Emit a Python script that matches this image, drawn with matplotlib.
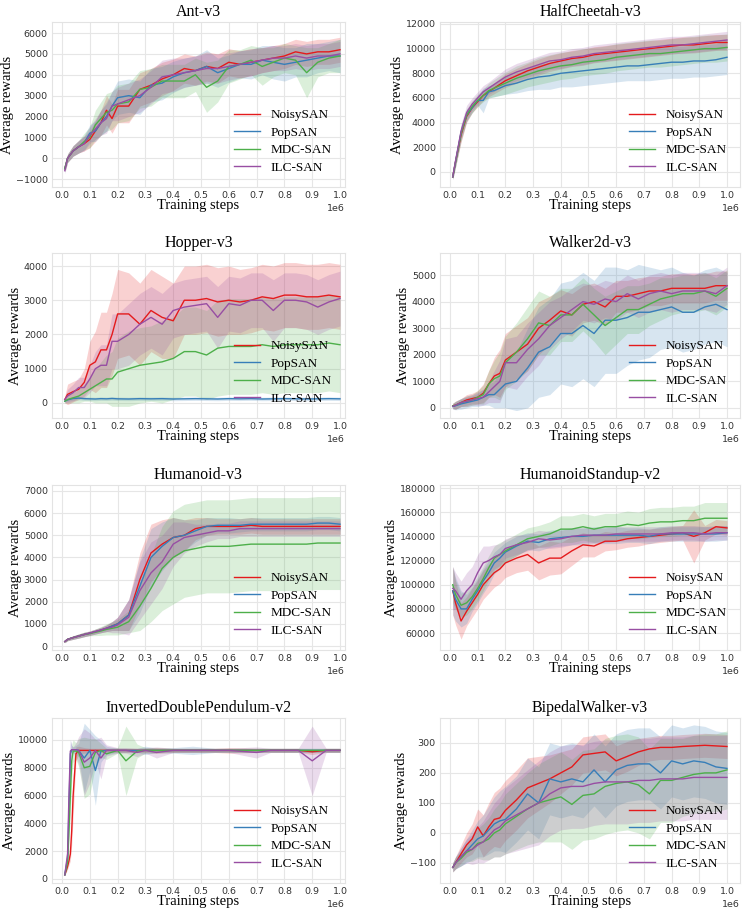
import matplotlib.pyplot as plt
import numpy as np

# training steps, in units of 1e6
X = [0.01, 0.02, 0.04, 0.06, 0.08, 0.10,
     0.12, 0.14, 0.16, 0.18, 0.20,
     0.24, 0.28, 0.32, 0.36, 0.40,
     0.44, 0.48, 0.52, 0.56, 0.60,
     0.64, 0.68, 0.72, 0.76, 0.80,
     0.84, 0.88, 0.92, 0.96, 1.00]
X_IDP = [0.01, 0.02, 0.025, 0.03, 0.035, 0.04,
         0.05, 0.06, 0.08, 0.10, 0.12,
         0.14, 0.16, 0.20, 0.23, 0.27,
         0.30, 0.34, 0.40, 0.47, 0.55,
         0.60, 0.70, 0.75, 0.81, 0.85,
         0.90, 0.95, 1.00]

methods = ["NoisySAN", "PopSAN", "MDC-SAN", "ILC-SAN"]
colors = ["#e41a1c", "#377eb8", "#4daf4a", "#984ea3"]

# ---- Ant-v3
ant_noisy = [-500, 0, 350, 550, 700, 900, 1300, 1700, 2300, 1900, 2500, 2500, 3300, 3500, 3800, 4000,
             4300, 4200, 4400, 4300, 4600, 4500, 4600, 4700, 4800, 4900, 5100, 5000, 5100, 5100, 5200]
ant_noisy_sd = [150, 200, 250, 300, 350, 400, 500, 600, 700, 700, 800, 800, 800, 800, 800, 750,
                700, 700, 700, 700, 650, 650, 650, 600, 600, 600, 600, 600, 600, 600, 600]
ant_pop = [-500, 0, 350, 550, 750, 1200, 1300, 1700, 2000, 2500, 2900, 3000, 2900, 3500, 3600, 3900,
           4100, 4200, 4400, 4100, 4300, 4500, 4500, 4700, 4600, 4500, 4600, 4700, 4800, 4900, 4900]
ant_pop_sd = [150, 200, 250, 300, 350, 400, 500, 600, 700, 700, 800, 800, 800, 800, 800, 750,
              700, 700, 800, 700, 650, 650, 700, 700, 800, 800, 700, 800, 700, 700, 800]
ant_mdc = [-500, 0, 350, 550, 800, 1000, 1600, 1900, 2200, 2300, 2600, 2700, 3300, 3400, 3700, 3700,
           3700, 4000, 3400, 3700, 4400, 4500, 4700, 4400, 4600, 4800, 4700, 4100, 4600, 4800, 4900]
ant_mdc_sd = [150, 200, 250, 300, 400, 500, 700, 800, 900, 900, 900, 900, 900, 900, 800, 800,
              800, 800, 1200, 1000, 800, 700, 700, 900, 700, 700, 700, 1200, 700, 700, 800]
ant_ilc = [-600, 0, 350, 550, 700, 1100, 1400, 1700, 1900, 2500, 2600, 2800, 3000, 3400, 3900, 4000,
           4100, 4200, 4300, 4300, 4400, 4500, 4600, 4700, 4800, 4800, 4900, 4800, 4900, 4900, 5000]
ant_ilc_sd = [150, 200, 250, 300, 350, 400, 500, 600, 700, 700, 800, 800, 800, 800, 800, 800,
              700, 700, 700, 700, 650, 650, 650, 600, 600, 600, 600, 600, 600, 600, 600]

# ---- HalfCheetah-v3
hc_noisy = [-400, 800, 3000, 4500, 5200, 5700, 6200, 6500, 6800, 7100, 7400, 7800, 8200, 8500, 8800, 9000,
            9200, 9300, 9500, 9600, 9700, 9800, 9900, 10000, 10100, 10200, 10300, 10300, 10400, 10500, 10500]
hc_noisy_sd = [200, 400, 600, 500, 400, 400, 400, 400, 450, 500, 550, 600, 600, 650, 650, 650,
               650, 650, 650, 650, 650, 650, 650, 650, 650, 650, 650, 650, 650, 650, 650]
hc_pop = [-400, 800, 3200, 4600, 5200, 5800, 5800, 6500, 6600, 6800, 7000, 7200, 7500, 7700, 7800, 8000,
          8100, 8200, 8300, 8400, 8500, 8600, 8600, 8700, 8800, 8900, 8900, 9000, 9000, 9100, 9300]
hc_pop_sd = [200, 400, 600, 500, 400, 400, 1000, 500, 500, 600, 700, 800, 900, 1000, 1100, 1100,
             1200, 1200, 1200, 1200, 1200, 1200, 1200, 1300, 1300, 1300, 1300, 1300, 1300, 1300, 1400]
hc_mdc = [-400, 800, 3100, 4600, 5300, 5800, 6200, 6600, 6800, 7000, 7200, 7600, 7900, 8200, 8400, 8600,
          8700, 8900, 9000, 9100, 9300, 9400, 9500, 9600, 9600, 9700, 9800, 9900, 10000, 10000, 10100]
hc_mdc_sd = [200, 400, 600, 500, 500, 500, 500, 600, 700, 800, 900, 1000, 1000, 1100, 1100, 1100,
             1100, 1100, 1100, 1100, 1100, 1100, 1100, 1100, 1100, 1100, 1100, 1100, 1100, 1100, 1100]
hc_ilc = [-400, 900, 3300, 4800, 5500, 6000, 6500, 6800, 7100, 7400, 7700, 8100, 8400, 8700, 9000, 9100,
          9300, 9400, 9600, 9700, 9800, 9900, 10000, 10100, 10200, 10300, 10300, 10400, 10500, 10600, 10700]
hc_ilc_sd = [200, 400, 600, 600, 500, 500, 500, 500, 550, 600, 650, 700, 700, 700, 700, 700,
             700, 700, 700, 700, 700, 700, 700, 700, 700, 700, 700, 700, 700, 700, 700]

# ---- Hopper-v3
hop_noisy = [100, 250, 330, 400, 600, 1100, 1200, 1550, 1550, 2000, 2600, 2600, 2300, 2700, 2500, 2400,
             3000, 3000, 3050, 2950, 3000, 2950, 3000, 3100, 3050, 3150, 3150, 3100, 3100, 3150, 3100]
hop_noisy_sd = [100, 300, 300, 300, 400, 700, 900, 1100, 1100, 1200, 1300, 1200, 1200, 1200, 1200, 1100,
                1000, 1000, 1000, 1000, 1000, 950, 950, 950, 950, 950, 950, 950, 950, 950, 950]
hop_pop = [50, 90, 130, 140, 125, 120, 115, 125, 120, 130, 120, 115, 125, 120, 125, 115,
           120, 125, 120, 115, 125, 120, 125, 115, 120, 125, 120, 115, 120, 125, 120]
hop_pop_sd = [30, 40, 50, 50, 50, 50, 50, 50, 50, 50, 50, 50, 50, 50, 50, 50,
              50, 50, 50, 50, 50, 50, 50, 50, 50, 50, 50, 50, 50, 50, 50]
hop_mdc = [50, 100, 150, 200, 300, 400, 500, 600, 700, 700, 900, 1000, 1100, 1150, 1200, 1300,
           1500, 1500, 1400, 1600, 1650, 1650, 1650, 1700, 1650, 1700, 1700, 1700, 1700, 1750, 1700]
hop_mdc_sd = [50, 100, 150, 200, 250, 350, 500, 600, 700, 800, 1000, 1100, 1100, 1100, 1200, 1200,
              1300, 1300, 1300, 1400, 1400, 1400, 1400, 1400, 1400, 1400, 1400, 1400, 1400, 1400, 1400]
hop_ilc = [100, 200, 300, 450, 450, 700, 1000, 1100, 1100, 1800, 1800, 2000, 2300, 2500, 2300, 2700,
           2800, 2850, 2900, 2500, 2900, 2850, 3000, 3000, 2700, 3000, 3000, 2950, 2800, 2950, 3050]
hop_ilc_sd = [80, 200, 250, 300, 300, 400, 500, 600, 600, 800, 800, 900, 900, 900, 900, 800,
              800, 800, 800, 900, 800, 800, 800, 800, 900, 800, 800, 800, 800, 800, 800]

# ---- Walker2d-v3
wk_noisy = [80, 100, 200, 300, 350, 400, 550, 900, 1200, 1300, 1800, 2100, 2400, 3000, 3300, 3650,
            3500, 3900, 4000, 3800, 4200, 4200, 4300, 4400, 4400, 4500, 4500, 4500, 4500, 4600, 4600]
wk_noisy_sd = [100, 150, 150, 200, 200, 250, 350, 500, 700, 900, 1000, 1000, 1000, 1000, 900, 800,
               800, 700, 700, 700, 600, 600, 600, 550, 550, 550, 550, 550, 550, 550, 550]
wk_pop = [50, 80, 150, 200, 250, 300, 400, 500, 500, 700, 900, 1000, 1500, 2100, 2300, 2800,
          2800, 3100, 2800, 3300, 3300, 3400, 3600, 3600, 3700, 3800, 3600, 3600, 3800, 3900, 3700]
wk_pop_sd = [100, 150, 200, 200, 200, 250, 300, 400, 500, 700, 900, 1100, 1500, 1700, 1800, 1900,
             2000, 2000, 2000, 2000, 2000, 1800, 1800, 1700, 1500, 1500, 1500, 1400, 1400, 1400, 1400]
wk_mdc = [80, 100, 200, 250, 300, 400, 500, 900, 1100, 1200, 1700, 2100, 2600, 3200, 3100, 3500,
          3500, 3900, 3500, 3100, 3400, 3700, 3700, 3900, 4100, 4200, 4300, 4300, 4400, 4200, 4500]
wk_mdc_sd = [100, 150, 150, 200, 200, 250, 350, 500, 700, 900, 1000, 1100, 1200, 1200, 1100, 1000,
             1000, 1000, 1000, 1100, 1000, 900, 900, 800, 800, 700, 700, 700, 700, 700, 700]
wk_ilc = [60, 100, 200, 250, 300, 350, 400, 600, 800, 1000, 1700, 1700, 2200, 2600, 3100, 3400,
          3700, 4000, 3900, 4100, 4000, 4300, 4100, 4300, 4400, 4300, 4400, 4400, 4400, 4300, 4600]
wk_ilc_sd = [100, 150, 150, 200, 200, 250, 300, 400, 600, 800, 900, 1000, 1000, 1000, 900, 800,
             800, 700, 700, 700, 700, 700, 700, 700, 700, 700, 700, 700, 700, 700, 700]

# ---- Humanoid-v3
hum_noisy = [200, 300, 380, 450, 520, 580, 650, 720, 800, 900, 1000, 1400, 3000, 4200, 4600, 4900,
             5000, 5300, 5400, 5400, 5400, 5400, 5450, 5400, 5400, 5400, 5400, 5400, 5400, 5400, 5400]
hum_noisy_sd = [50, 60, 80, 90, 100, 100, 110, 120, 150, 200, 300, 700, 1200, 1300, 1100, 900,
                700, 500, 400, 350, 350, 350, 350, 350, 350, 350, 350, 350, 350, 350, 350]
hum_pop = [200, 300, 380, 450, 520, 580, 650, 720, 800, 900, 1000, 1400, 2700, 4000, 4500, 4900,
           5000, 5200, 5400, 5450, 5450, 5450, 5500, 5500, 5500, 5500, 5500, 5500, 5550, 5550, 5500]
hum_pop_sd = [50, 60, 80, 90, 100, 100, 110, 120, 150, 200, 300, 700, 1200, 1300, 1100, 900,
              700, 500, 400, 350, 350, 300, 300, 300, 300, 300, 300, 300, 300, 300, 300]
hum_mdc = [200, 300, 380, 450, 520, 560, 620, 680, 750, 800, 850, 1100, 1800, 2600, 3500, 4000,
           4300, 4400, 4500, 4500, 4500, 4550, 4600, 4600, 4600, 4600, 4600, 4600, 4650, 4650, 4650]
hum_mdc_sd = [50, 60, 80, 100, 100, 100, 150, 200, 250, 300, 350, 500, 1100, 1500, 1900, 2100,
              2100, 2100, 2100, 2100, 2100, 2100, 2100, 2100, 2100, 2100, 2100, 2100, 2100, 2100, 2100]
hum_ilc = [200, 300, 380, 450, 520, 580, 650, 720, 800, 850, 950, 1300, 2500, 3300, 3800, 4600,
           4900, 5000, 5100, 5200, 5200, 5300, 5300, 5300, 5300, 5300, 5300, 5300, 5300, 5300, 5300]
hum_ilc_sd = [50, 60, 80, 90, 100, 100, 110, 120, 150, 250, 350, 800, 1300, 1400, 1200, 1000,
              700, 500, 400, 350, 350, 350, 350, 350, 350, 350, 350, 350, 350, 350, 350]

# ---- HumanoidStandup-v2
hs_noisy = [95000, 85000, 70000, 78000, 85000, 92000, 100000, 105000, 110000, 113000, 118000,
            122000, 125000, 118000, 122000, 122000, 128000, 133000, 132000, 136000, 136000,
            138000, 139000, 140000, 141000, 142000, 143000, 140000, 143000, 148000, 147000]
hs_noisy_sd = [20000, 18000, 15000, 12000, 12000, 12000, 12000, 12000, 12000, 12000, 12000,
               12000, 13000, 14000, 14000, 13000, 12000, 10000, 9000, 8000, 7000,
               7000, 7000, 6000, 6000, 6000, 6000, 22000, 6000, 6000, 6000]
hs_pop = [95000, 88000, 80000, 80000, 88000, 95000, 103000, 110000, 118000, 122000, 127000,
          132000, 136000, 135000, 138000, 139000, 140000, 140000, 141000, 141000, 141000,
          141000, 141000, 140000, 142000, 142000, 142000, 142000, 142000, 142000, 143000]
hs_pop_sd = [20000, 18000, 15000, 12000, 10000, 10000, 10000, 10000, 9000, 9000, 8000,
             8000, 7000, 7000, 7000, 7000, 7000, 7000, 7000, 7000, 7000,
             6000, 6000, 6000, 6000, 6000, 6000, 6000, 6000, 6000, 6000]
hs_mdc = [100000, 92000, 83000, 85000, 90000, 97000, 105000, 114000, 122000, 125000, 128000,
          133000, 138000, 140000, 142000, 146000, 146000, 148000, 146000, 148000, 148000,
          150000, 149000, 151000, 152000, 152000, 153000, 153000, 155000, 155000, 155000]
hs_mdc_sd = [15000, 12000, 10000, 10000, 10000, 10000, 10000, 10000, 10000, 10000, 9000,
             9000, 9000, 9000, 10000, 11000, 11000, 11000, 11000, 11000, 11000,
             11000, 11000, 12000, 12000, 12000, 12000, 12000, 13000, 13000, 13000]
hs_ilc = [97000, 95000, 88000, 95000, 100000, 110000, 118000, 120000, 123000, 125000, 130000,
          133000, 135000, 138000, 137000, 138000, 140000, 141000, 141000, 141000, 142000,
          142000, 142000, 142000, 142000, 143000, 143000, 143000, 142000, 143000, 143000]
hs_ilc_sd = [18000, 15000, 15000, 15000, 15000, 15000, 14000, 12000, 10000, 9000, 8000,
             8000, 7000, 7000, 7000, 7000, 7000, 6000, 6000, 6000, 6000,
             6000, 6000, 6000, 6000, 6000, 6000, 6000, 6000, 6000, 6000]

# ---- InvertedDoublePendulum-v2 (on X_IDP)
idp_noisy = [300, 900, 1300, 1800, 3500, 6000, 9000, 9250, 9250, 9250, 9250,
             9250, 9250, 9250, 9250, 9250, 9250, 9250, 9250, 9250, 9250,
             9250, 9250, 9250, 9250, 9250, 9150, 9250, 9250]
idp_noisy_sd = [50, 200, 300, 500, 1000, 1500, 500, 300, 200, 150, 150,
                150, 150, 150, 150, 150, 150, 200, 150, 150, 150,
                200, 150, 150, 150, 150, 200, 150, 150]
idp_pop = [300, 1500, 5000, 9000, 9300, 9300, 9300, 9250, 8700, 9250, 7800,
           9200, 9250, 9250, 9250, 9250, 9250, 9250, 9250, 9250, 9250,
           9250, 9250, 9250, 9250, 9250, 9250, 9250, 9250]
idp_pop_sd = [50, 500, 1500, 1000, 300, 200, 300, 500, 2500, 1500, 2500,
              800, 300, 150, 150, 150, 300, 150, 200, 300, 150,
              150, 150, 150, 150, 150, 150, 150, 150]
idp_mdc = [300, 1200, 3500, 6000, 8500, 9200, 9200, 9100, 8000, 8100, 9100,
           9250, 9000, 9250, 8500, 9200, 9250, 9250, 9250, 9250, 9250,
           9250, 9250, 9250, 9250, 9250, 9250, 9250, 9250]
idp_mdc_sd = [50, 400, 1000, 1500, 1200, 800, 600, 1000, 2200, 2000, 1000,
              500, 400, 200, 2500, 500, 200, 200, 150, 150, 150,
              150, 150, 150, 150, 150, 150, 150, 150]
idp_ilc = [300, 1800, 6000, 9200, 9300, 9300, 9300, 9250, 8400, 8700, 9250,
           8700, 9250, 9250, 9250, 9100, 9250, 9100, 9250, 9250, 9250,
           9250, 9100, 9250, 9250, 9250, 8500, 9250, 9250]
idp_ilc_sd = [50, 600, 1500, 800, 300, 200, 500, 1000, 2400, 1800, 800,
              1500, 400, 200, 200, 300, 200, 400, 150, 150, 150,
              150, 400, 150, 150, 150, 2500, 150, 150]

# ---- BipedalWalker-v3
bw_noisy = [-115, -100, -70, -40, -20, 20, -10, 20, 45, 50, 75, 110, 150, 165, 180, 200,
            220, 260, 265, 270, 240, 255, 270, 280, 285, 285, 288, 290, 292, 290, 288]
bw_noisy_sd = [15, 20, 30, 40, 50, 60, 70, 80, 90, 100, 100, 100, 100, 90, 80, 70,
               60, 60, 60, 60, 50, 50, 45, 40, 40, 40, 40, 40, 40, 40, 40]
bw_pop = [-115, -100, -80, -60, -40, -20, -10, 10, 30, 40, 45, 80, 130, 100, 180, 170,
          180, 170, 210, 170, 210, 225, 230, 230, 200, 240, 230, 240, 235, 220, 215]
bw_pop_sd = [15, 20, 30, 40, 50, 60, 70, 80, 90, 100, 110, 110, 120, 120, 120, 120,
             120, 120, 120, 120, 120, 120, 120, 120, 120, 120, 120, 120, 120, 120, 120]
bw_mdc = [-115, -100, -85, -65, -55, -35, -30, -20, 0, 10, 30, 55, 80, 100, 110, 120,
          95, 125, 130, 155, 165, 170, 160, 130, 175, 175, 185, 195, 200, 200, 210]
bw_mdc_sd = [15, 20, 25, 30, 40, 50, 60, 70, 80, 90, 100, 110, 120, 130, 140, 150,
             150, 150, 150, 160, 160, 160, 160, 150, 140, 140, 130, 130, 130, 130, 130]
bw_ilc = [-115, -100, -80, -60, -55, -40, -30, -10, 10, 20, 40, 60, 80, 100, 130, 150,
          155, 155, 165, 170, 170, 170, 175, 175, 180, 180, 180, 185, 185, 185, 185]
bw_ilc_sd = [15, 20, 30, 40, 50, 60, 70, 80, 90, 100, 110, 120, 130, 140, 140, 140,
             140, 140, 140, 140, 140, 140, 140, 140, 140, 140, 140, 140, 140, 140, 140]

panels = [
    ("Ant-v3", X, [ant_noisy, ant_pop, ant_mdc, ant_ilc],
     [ant_noisy_sd, ant_pop_sd, ant_mdc_sd, ant_ilc_sd], (-1380, 6530), np.arange(-1000, 6001, 1000)),
    ("HalfCheetah-v3", X, [hc_noisy, hc_pop, hc_mdc, hc_ilc],
     [hc_noisy_sd, hc_pop_sd, hc_mdc_sd, hc_ilc_sd], (-1220, 12160), np.arange(0, 12001, 2000)),
    ("Hopper-v3", X, [hop_noisy, hop_pop, hop_mdc, hop_ilc],
     [hop_noisy_sd, hop_pop_sd, hop_mdc_sd, hop_ilc_sd], (-440, 4380), np.arange(0, 4001, 1000)),
    ("Walker2d-v3", X, [wk_noisy, wk_pop, wk_mdc, wk_ilc],
     [wk_noisy_sd, wk_pop_sd, wk_mdc_sd, wk_ilc_sd], (-380, 5830), np.arange(0, 5001, 1000)),
    ("Humanoid-v3", X, [hum_noisy, hum_pop, hum_mdc, hum_ilc],
     [hum_noisy_sd, hum_pop_sd, hum_mdc_sd, hum_ilc_sd], (-180, 7270), np.arange(0, 7001, 1000)),
    ("HumanoidStandup-v2", X, [hs_noisy, hs_pop, hs_mdc, hs_ilc],
     [hs_noisy_sd, hs_pop_sd, hs_mdc_sd, hs_ilc_sd], (46000, 182500), np.arange(60000, 180001, 20000)),
    ("InvertedDoublePendulum-v2", X_IDP, [idp_noisy, idp_pop, idp_mdc, idp_ilc],
     [idp_noisy_sd, idp_pop_sd, idp_mdc_sd, idp_ilc_sd], (-290, 11580), np.arange(0, 10001, 2000)),
    ("BipedalWalker-v3", X, [bw_noisy, bw_pop, bw_mdc, bw_ilc],
     [bw_noisy_sd, bw_pop_sd, bw_mdc_sd, bw_ilc_sd], (-167, 383), np.arange(-100, 301, 100)),
]

SERIF = "Liberation Serif"
W, H = 747, 910
fig = plt.figure(figsize=(W / 100, H / 100), dpi=100)

row_tops = [22, 253, 485, 718]
col_left = [52, 440]
col_width = [293, 300]
col_xmax = [1.018, 1.047]
ax_h = 165

for i, (title, xs, means, sds, ylim, yticks) in enumerate(panels):
    r, c = divmod(i, 2)
    ax = fig.add_axes([col_left[c] / W, 1 - (row_tops[r] + ax_h) / H,
                       col_width[c] / W, ax_h / H])
    steps = np.array(xs) * 1e6
    for m, s, col, name in zip(means, sds, colors, methods):
        m = np.array(m, dtype=float)
        s = np.array(s, dtype=float)
        ax.fill_between(steps, m - s, m + s, color=col, alpha=0.2, lw=0)
        ax.plot(steps, m, color=col, lw=1.0, label=name)
    ax.set_xlim(-0.036e6, col_xmax[c] * 1e6)
    ax.set_ylim(*ylim)
    ax.set_yticks(yticks)
    ax.set_xticks(np.arange(0, 1.01, 0.1) * 1e6)
    ax.grid(True, color="#e6e6e6", lw=0.8)
    ax.set_axisbelow(True)
    for sp in ax.spines.values():
        sp.set_color("#e3e3e3")
        sp.set_linewidth(0.8)
    ax.tick_params(length=0, labelsize=6.8, labelcolor="#333333", pad=3)
    ax.xaxis.get_offset_text().set_fontsize(6.8)
    ax.xaxis.get_offset_text().set_color("#333333")
    ax.set_title(title, fontfamily=SERIF, fontsize=11.5, pad=4)
    ax.set_xlabel("Training steps", fontfamily=SERIF, fontsize=10.5, labelpad=-1)
    ax.set_ylabel("Average rewards", fontfamily=SERIF, fontsize=10.5, labelpad=1.5)
    ax.legend(loc="lower right", frameon=False, prop={"family": SERIF, "size": 9.5},
              handlelength=2.0, labelspacing=0.4, borderaxespad=0.6)

fig.savefig("out.png", dpi=100)
